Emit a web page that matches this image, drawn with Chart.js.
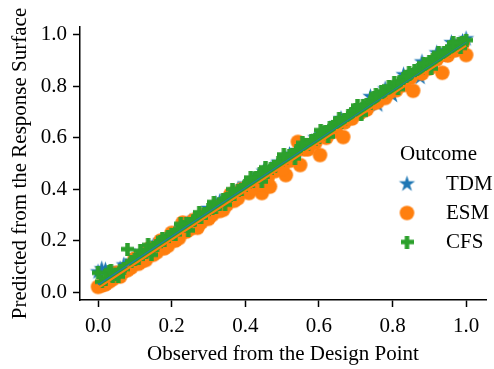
<!DOCTYPE html>
<html>
<head>
<meta charset="utf-8">
<script src="https://cdn.jsdelivr.net/npm/chart.js@4.4.1/dist/chart.umd.min.js"></script>
<style>
    body { margin: 0; background: #fff; }
    #wrap { width: 494px; height: 369px; }
</style>
</head>
<body>
<div id="wrap"><canvas id="chart" width="494" height="369"></canvas></div>
<script>
const outcomes = ['TDM', 'ESM', 'CFS'];
const colors = ['#1f77b4', '#ff7f0e', '#2ca02c'];

const tdmX = [0.00, 0.02, 0.04, 0.07, 0.09, 0.12, 0.14, 0.16, 0.19, 0.21, 0.23, 0.26, 0.28, 0.30, 0.33, 0.35,
    0.37, 0.40, 0.42, 0.44, 0.47, 0.49, 0.51, 0.54, 0.56, 0.58, 0.61, 0.63, 0.65, 0.68, 0.70, 0.72,
    0.75, 0.76, 0.79, 0.80, 0.82, 0.84, 0.86, 0.875, 0.89, 0.91, 0.93, 0.95, 0.97, 0.99, 1.00,
    0.01, 0.06, 0.10, 0.15, 0.18, 0.25, 0.32, 0.38, 0.45, 0.52, 0.59, 0.66, 0.74, 0.78, 0.83, 0.88,
    0.92, 0.96];
const tdmY = [0.078, 0.086, 0.07, 0.105, 0.12, 0.155, 0.17, 0.19, 0.215, 0.24, 0.255, 0.285, 0.30, 0.325, 0.35, 0.37,
    0.39, 0.42, 0.435, 0.455, 0.48, 0.505, 0.52, 0.55, 0.57, 0.585, 0.615, 0.635, 0.655, 0.68, 0.70, 0.72,
    0.745, 0.728, 0.785, 0.765, 0.815, 0.835, 0.85, 0.835, 0.88, 0.90, 0.92, 0.94, 0.955, 0.975, 0.985,
    0.09, 0.09, 0.14, 0.18, 0.20, 0.275, 0.345, 0.40, 0.47, 0.535, 0.60, 0.675, 0.76, 0.79, 0.845, 0.895,
    0.93, 0.97];

const esmX = [0.00, 0.02, 0.04, 0.05, 0.07, 0.09, 0.10, 0.12, 0.14, 0.15, 0.17, 0.18, 0.20, 0.21, 0.23, 0.24,
    0.26, 0.27, 0.29, 0.30, 0.32, 0.34, 0.36, 0.37, 0.39, 0.41, 0.43, 0.445, 0.467, 0.48, 0.51, 0.52,
    0.543, 0.549, 0.57, 0.603, 0.62, 0.645, 0.666, 0.69, 0.71, 0.73, 0.76, 0.78, 0.81, 0.83, 0.856,
    0.88, 0.90, 0.935, 0.95, 0.97, 1.00,
    0.01, 0.03, 0.06, 0.08, 0.11, 0.13, 0.16, 0.19, 0.22, 0.25, 0.28, 0.31, 0.33, 0.35, 0.38, 0.40,
    0.42, 0.44, 0.46, 0.50, 0.53, 0.56, 0.59, 0.63, 0.67, 0.72, 0.75, 0.79, 0.85, 0.92, 0.99];
const esmY = [0.02, 0.03, 0.05, 0.075, 0.08, 0.095, 0.13, 0.12, 0.17, 0.145, 0.20, 0.17, 0.23, 0.20, 0.27, 0.235,
    0.28, 0.25, 0.30, 0.285, 0.33, 0.32, 0.38, 0.355, 0.40, 0.385, 0.425, 0.385, 0.41, 0.47, 0.455, 0.51,
    0.584, 0.494, 0.555, 0.533, 0.60, 0.625, 0.603, 0.675, 0.695, 0.71, 0.74, 0.755, 0.785, 0.805, 0.783,
    0.85, 0.87, 0.853, 0.92, 0.94, 0.922,
    0.025, 0.04, 0.06, 0.085, 0.11, 0.125, 0.155, 0.18, 0.21, 0.245, 0.27, 0.30, 0.315, 0.34, 0.365, 0.395,
    0.405, 0.42, 0.44, 0.48, 0.52, 0.555, 0.58, 0.62, 0.66, 0.705, 0.735, 0.775, 0.835, 0.905, 0.965];

const cfsX = [0.00, 0.01, 0.03, 0.04, 0.06, 0.08, 0.10, 0.12, 0.136, 0.15, 0.17, 0.18, 0.20, 0.22, 0.24, 0.25,
    0.27, 0.29, 0.31, 0.32, 0.34, 0.36, 0.38, 0.39, 0.41, 0.43, 0.45, 0.46, 0.48, 0.50, 0.52, 0.53,
    0.55, 0.57, 0.59, 0.60, 0.62, 0.64, 0.66, 0.67, 0.69, 0.71, 0.73, 0.74, 0.76, 0.78, 0.80, 0.81,
    0.83, 0.85, 0.87, 0.88, 0.90, 0.92, 0.94, 0.95, 0.97, 0.98, 1.00,
    0.02, 0.05, 0.07, 0.09, 0.11, 0.13, 0.16, 0.19, 0.21, 0.23, 0.26, 0.28, 0.30, 0.33, 0.35, 0.37,
    0.40, 0.42, 0.44, 0.47, 0.49, 0.51, 0.54, 0.56, 0.58, 0.61, 0.63, 0.65, 0.68, 0.70, 0.72, 0.75,
    0.77, 0.79, 0.82, 0.84, 0.86, 0.89, 0.91, 0.93, 0.96, 0.99,
    0.035, 0.115, 0.175, 0.225, 0.275, 0.315, 0.365, 0.415, 0.455, 0.505, 0.555, 0.605, 0.655, 0.705,
    0.755, 0.805, 0.845, 0.885, 0.925, 0.965,
    0.055, 0.145, 0.245, 0.345, 0.445, 0.535, 0.625, 0.715, 0.815, 0.905, 0.985];
const cfsY = [0.075, 0.04, 0.08, 0.06, 0.085, 0.167, 0.125, 0.145, 0.183, 0.175, 0.195, 0.20, 0.225, 0.245, 0.265, 0.265,
    0.29, 0.305, 0.325, 0.33, 0.36, 0.375, 0.395, 0.40, 0.425, 0.445, 0.465, 0.465, 0.49, 0.51, 0.53, 0.535,
    0.56, 0.575, 0.595, 0.60, 0.625, 0.645, 0.66, 0.67, 0.695, 0.71, 0.73, 0.735, 0.76, 0.775, 0.795, 0.80,
    0.83, 0.845, 0.865, 0.87, 0.895, 0.91, 0.93, 0.935, 0.955, 0.965, 0.98,
    0.05, 0.07, 0.09, 0.12, 0.13, 0.155, 0.18, 0.215, 0.225, 0.255, 0.28, 0.29, 0.32, 0.34, 0.365, 0.38,
    0.415, 0.43, 0.46, 0.48, 0.505, 0.52, 0.55, 0.575, 0.59, 0.62, 0.64, 0.66, 0.685, 0.71, 0.725, 0.755,
    0.78, 0.80, 0.82, 0.84, 0.86, 0.885, 0.905, 0.92, 0.955, 0.97,
    0.085, 0.16, 0.21, 0.265, 0.31, 0.35, 0.40, 0.445, 0.485, 0.535, 0.58, 0.63, 0.675, 0.725,
    0.77, 0.815, 0.855, 0.89, 0.93, 0.97,
    0.06, 0.145, 0.24, 0.34, 0.43, 0.52, 0.605, 0.69, 0.79, 0.87, 0.95];

// regression lines, from the smallest to the largest observed value
const fitX = [0.0, 1.0];
const tdmFit = [0.03, 0.975];
const esmFit = [0.015, 0.958];
const cfsFit = [0.035, 0.978];

const xTicks = [0.0, 0.2, 0.4, 0.6, 0.8, 1.0];
const yTicks = [0.0, 0.2, 0.4, 0.6, 0.8, 1.0];

const FONT = 'Liberation Serif';

function makeStar(color, r) {
    const c = document.createElement('canvas');
    c.width = c.height = Math.ceil(r * 2 + 2);
    const g = c.getContext('2d');
    const cx = c.width / 2, cy = c.height / 2;
    g.beginPath();
    for (let i = 0; i < 10; i++) {
        const rad = i % 2 === 0 ? r : r * 0.382;
        const a = -Math.PI / 2 + i * Math.PI / 5;
        g.lineTo(cx + rad * Math.cos(a), cy + rad * Math.sin(a));
    }
    g.closePath();
    g.fillStyle = color;
    g.fill();
    return c;
}

function makePlus(color, size, thick) {
    const c = document.createElement('canvas');
    c.width = c.height = size;
    const g = c.getContext('2d');
    const m = (size - thick) / 2;
    g.fillStyle = color;
    g.fillRect(m, 0, thick, size);
    g.fillRect(0, m, size, thick);
    return c;
}

function makeCircle(color, r) {
    const c = document.createElement('canvas');
    c.width = c.height = Math.ceil(r * 2 + 2);
    const g = c.getContext('2d');
    g.beginPath();
    g.arc(c.width / 2, c.height / 2, r, 0, Math.PI * 2);
    g.fillStyle = color;
    g.fill();
    return c;
}

const markers = [makeStar(colors[0], 8.5), makeCircle(colors[1], 7.3), makePlus(colors[2], 13, 4.5)];

function toPoints(xs, ys) {
    return xs.map((x, i) => ({ x: x, y: ys[i] }));
}

function scatterSet(label, xs, ys, i, order) {
    return {
        type: 'scatter',
        label: label,
        data: toPoints(xs, ys),
        pointStyle: markers[i],
        pointRadius: 7,
        pointHoverRadius: 7,
        backgroundColor: colors[i],
        borderWidth: 0,
        order: order
    };
}

function lineSet(label, ys, i, order) {
    return {
        type: 'line',
        label: label,
        data: toPoints(fitX, ys),
        borderColor: colors[i],
        borderWidth: 2,
        pointRadius: 0,
        fill: false,
        order: order
    };
}

const legendPlugin = {
    id: 'outcomeLegend',
    afterDraw(chart) {
        const ctx = chart.ctx;
        ctx.save();
        ctx.fillStyle = '#000';
        ctx.font = '21px "' + FONT + '"';
        ctx.textBaseline = 'middle';
        ctx.textAlign = 'left';
        ctx.fillText('Outcome', 400, 154);
        outcomes.forEach((name, i) => {
            const y = 184 + i * 29;
            const img = markers[i];
            ctx.drawImage(img, 407 - img.width / 2, y - img.height / 2);
            ctx.fillText(name, 446, y);
        });
        ctx.restore();
    }
};

function axis(min, max, ticks, title, isX) {
    return {
        type: 'linear',
        min: min,
        max: max,
        afterBuildTicks: s => { s.ticks = ticks.map(v => ({ value: v })); },
        afterFit: s => {
            if (isX) {
                s.height = 69;
                s.paddingLeft = 0;
                s.paddingRight = 0;
            } else {
                s.width = 80;
                s.paddingTop = 0;
                s.paddingBottom = 0;
            }
        },
        grid: { display: true, drawOnChartArea: false, drawTicks: true, tickLength: 7, tickWidth: 1.5, color: '#000' },
        border: { display: true, color: '#000', width: 1.5 },
        ticks: {
            color: '#000',
            font: { family: FONT, size: 21 },
            padding: isX ? 7 : 6,
            maxRotation: 0,
            autoSkip: false,
            callback: v => v.toFixed(1)
        },
        title: {
            display: true,
            text: title,
            color: '#000',
            font: { family: FONT, size: 21 },
            padding: isX ? { top: 0, bottom: 2 } : { top: 8, bottom: 0 }
        }
    };
}

new Chart(document.getElementById('chart').getContext('2d'), {
    data: {
        datasets: [
            lineSet('CFS fit', cfsFit, 2, 0),
            lineSet('ESM fit', esmFit, 1, 1),
            lineSet('TDM fit', tdmFit, 0, 2),
            scatterSet('CFS', cfsX, cfsY, 2, 3),
            scatterSet('ESM', esmX, esmY, 1, 4),
            scatterSet('TDM', tdmX, tdmY, 0, 5)
        ]
    },
    options: {
        responsive: false,
        animation: false,
        layout: { padding: { left: 0, right: 8, top: 27, bottom: 0 } },
        plugins: { legend: { display: false }, tooltip: { enabled: false } },
        scales: {
            x: axis(-0.049, 1.054, xTicks, 'Observed from the Design Point', true),
            y: axis(-0.031, 1.031, yTicks, 'Predicted from the Response Surface', false)
        }
    },
    plugins: [legendPlugin]
});
</script>
</body>
</html>
